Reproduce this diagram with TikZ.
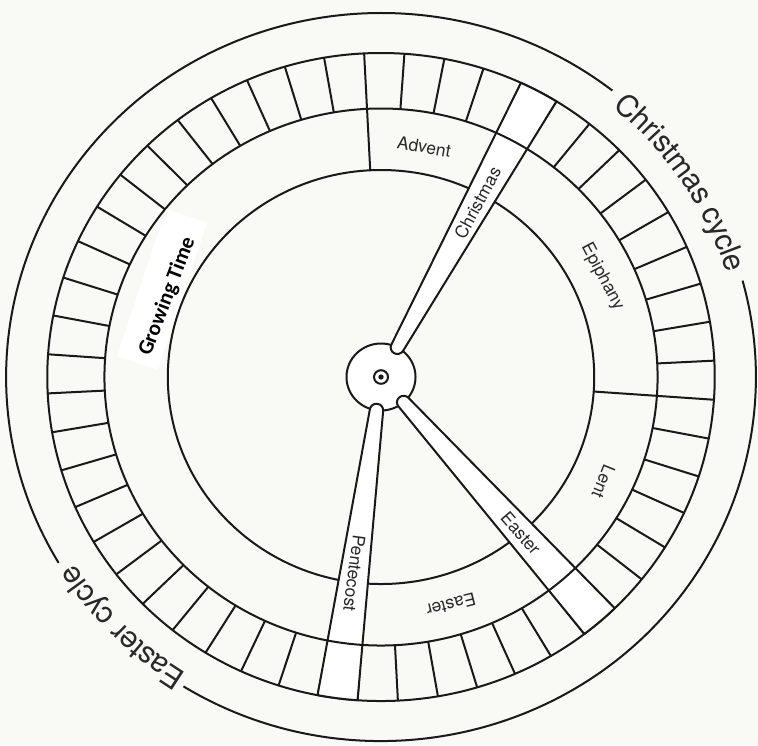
\documentclass[tikz,border=0pt]{standalone}
\usepackage{fontspec}
\setsansfont{TeX Gyre Heros}
\newfontfamily\gtfont{Carlito}
\usetikzlibrary{decorations.text}
\definecolor{bgcol}{RGB}{249,250,246}
\definecolor{inkcol}{RGB}{25,25,25}
\definecolor{txtcol}{RGB}{40,40,40}
\newcommand\churchhand[1]{%
  \draw[handline] ({#1+10.98}:34.125) -- ({#1+3.4615}:324)
    arc[start angle={#1+3.4615}, end angle={#1-3.4615}, radius=324]
    -- ({#1-10.98}:34.125)
    arc[start angle={#1-90}, end angle={#1-270}, radius=6.5] -- cycle;}
\begin{document}
\begin{tikzpicture}[x=1.03pt, y=1pt,
  ink/.style={draw=inkcol, line width=2pt},
  handline/.style={draw=inkcol, line width=2pt, fill=white, line join=round},
  lab/.style={font=\sffamily\fontsize{17.5}{17.5}\selectfont, text=txtcol, inner sep=0pt},
  gtlab/.style={font=\gtfont\bfseries\fontsize{21.5}{21.5}\selectfont, text=black, inner sep=0pt},
  gtbox/.style={fill=white, draw=none, minimum width=155pt, minimum height=43pt, inner sep=0pt},
  cyc/.style={decorate, decoration={text along path, text align=center, text color=txtcol, raise=-13pt}}]
% canvas
\fill[bgcol] (-369.9,-368) rectangle (366.0,377);
\useasboundingbox (-369.9,-368) rectangle (366.0,377);
% outer cycle arcs
\draw[ink] (51.9:364) arc[start angle=51.9, end angle=210.7, radius=364];
\draw[ink] (238.2:364) arc[start angle=238.2, end angle=375.35, radius=364];
\path[cyc, decoration={text={|\sffamily\fontsize{30}{30}\selectfont|Christmas cycle}}]
  (52:364) arc[start angle=52, end angle=15.4, radius=364];
\path[cyc, decoration={text={|\sffamily\fontsize{30}{30}\selectfont|Easter cycle}}]
  (239:364) arc[start angle=239, end angle=210.7, radius=364];
% week ring
\draw[ink] (0,0) circle[radius=324];
\foreach \k in {0,...,51}{
  \pgfmathsetmacro\a{92.9-\k*6.923077}
  \draw[ink] (\a:268.5) -- (\a:324);
}
% season ring
\draw[ink] (0,0) circle[radius=207];
\draw[ink] (92.9:207) -- (92.9:268.5);
\draw[ink] (-4.02:207) -- (-4.02:268.5);
% hub
\draw[ink, fill=white] (0,0) circle[radius=33.5];
% hands
\churchhand{61.75}
\churchhand{-49}
\churchhand{-97.5}
\draw[ink] (0,0) circle[radius=268.5];
\draw[ink] (0,0) circle[radius=6.8];
\fill[inkcol] (0,0) circle[radius=2.6];
% labels
\node[gtbox, rotate=71.5] (gtb) at (157.6:230) {};
\node[gtlab, rotate=69] (gt) at (158.8:222.5) {Growing Time};
\node[lab, rotate=-10] (advent) at (79.7:234) {Advent};
\node[lab, rotate=61.75] (christmas) at (61.75:198) {Christmas};
\node[lab, rotate=-62] (epiphany) at (25:237) {Epiphany};
\node[lab, rotate=-112] (lent) at (-25.8:240) {Lent};
\node[lab, rotate=-49] (easterhand) at (-49:207) {Easter};
\node[lab, rotate=-166] (eastersegment) at (-73.4:238) {Easter};
\node[lab, rotate=-97.5] (pentecost) at (-97.5:198) {Pentecost};
\end{tikzpicture}
\end{document}
